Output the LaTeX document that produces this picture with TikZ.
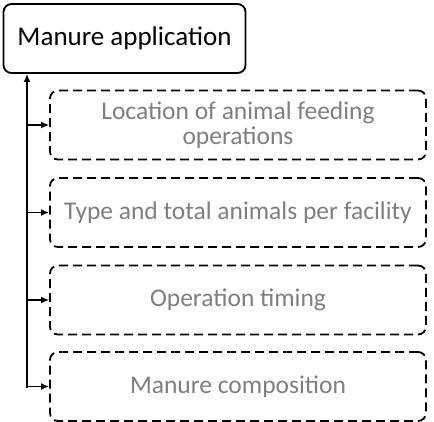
\documentclass[tikz,border=0pt]{standalone}
\usepackage{fontspec}
\setmainfont{Carlito}
\usetikzlibrary{arrows.meta}
\definecolor{labelgray}{HTML}{7F7F7F}
\tikzset{
  rootbox/.style={draw=black, line width=1.8pt, rounded corners=8pt, fill=white,
    minimum width=242pt, minimum height=69pt, inner sep=0pt,
    font=\fontsize{27}{32}\selectfont, text=black},
  itembox/.style={draw=black, line width=1.8pt, rounded corners=8pt,
    dash pattern=on 9pt off 5pt, minimum width=376pt, minimum height=69pt,
    inner sep=0pt, align=center, font=\fontsize{25.5}{24.5}\selectfont, text=labelgray},
  link/.style={draw=black, line width=1.8pt, -{Latex[length=8pt,width=7pt]}}
}
\begin{document}
\begin{tikzpicture}[x=1pt,y=-1pt]
  \useasboundingbox (0,0) rectangle (434,422);
  \node[rootbox] (root) at (124.5,38.5) {Manure application};
  \node[itembox] (b1) at (238,125) {Location of animal feeding\\operations};
  \node[itembox] (b2) at (238,212.5) {Type and total animals per facility};
  \node[itembox] (b3) at (238,300) {Operation timing};
  \node[itembox] (b4) at (238,386.5) {Manure composition};
  \coordinate (base) at (27,388);
  % vertical spine ending in an arrow at the root box
  \draw[link] (base) -- (root.south -| base);
  % branches to each item
  \foreach \b in {b1,b2,b3,b4}
    \draw[link] (\b.west -| base) -- (\b.west);
\end{tikzpicture}
\end{document}
